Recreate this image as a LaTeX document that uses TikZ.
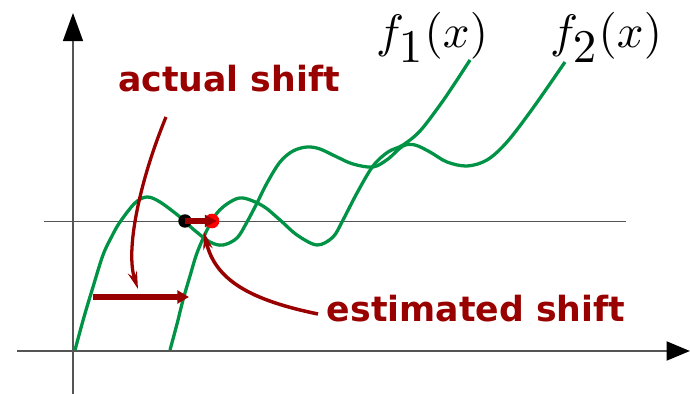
\documentclass[tikz,border=0pt]{standalone}
\usepackage{fontspec}
\newfontfamily\shiftfont{DejaVu Sans}
\usepackage{tikz}
\usetikzlibrary{arrows.meta, positioning}
\definecolor{curvegreen}{RGB}{0,146,69}
\definecolor{shiftred}{RGB}{153,0,0}
\definecolor{axisgray}{RGB}{85,85,85}

\begin{document}
\begin{tikzpicture}[x=0.3mm, y=-0.3mm,
    curve/.style={curvegreen, line width=2.8pt, line join=round},
    shiftlabel/.style={shiftred, inner sep=0pt, anchor=base, font=\shiftfont\bfseries\fontsize{29.6}{36}\selectfont},
    funclabel/.style={inner sep=0pt, anchor=base, scale=4},
    shiftarrow/.style={shiftred, line width=2.8pt, -{Stealth[length=15pt, width=8pt]}},
    pointdot/.style={circle, inner sep=0pt, minimum size=12.5pt}]
    \useasboundingbox (0,0) rectangle (690,394);
    % axes and level line
    \coordinate (xstart) at (17,351);
    \coordinate (xend) at (690,351);
    \coordinate (ystart) at (73,394);
    \coordinate (yend) at (73,13);
    \draw[axisgray, line width=2.4pt, -{Triangle[length=20pt, width=16pt, color=black]}] (xstart) -- (xend);
    \draw[axisgray, line width=1.6pt, -{Triangle[length=24pt, width=17pt, color=black]}] (ystart) -- (yend);
    \draw[axisgray, line width=0.85pt] (44,221) -- (626,221);
    % the two curves
    \draw[curve] plot[smooth, tension=0.55] coordinates {(75,350) (84,317) (93,287) (103,255) (112,236) (120,222) (135,203) (147,197) (160,202) (180,217) (193,229) (210,242) (223,245) (237,238) (247,222) (257,203) (267,183) (280,162) (293,151) (307,147) (320,149) (337,157) (353,164) (373,167) (388,159) (403,146) (415,145) (430,152) (447,162) (467,166) (487,160) (507,142) (533,108) (565,62)};
    \draw[curve] plot[smooth, tension=0.55] coordinates {(170,350) (177,324) (183,300) (190,276) (197,253) (207,230) (217,213) (230,202) (243,198) (263,206) (280,220) (297,235) (317,245) (333,237) (343,220) (357,193) (373,166) (388,152) (403,145) (420,131) (440,105) (455,83) (470,60)};
    \node[funclabel] (fone) at (432,48) {$f_{\textstyle 1}(x)$};
    \node[funclabel] (ftwo) at (606,48) {$f_{\textstyle 2}(x)$};
    % shifts
    \node[shiftlabel] (actual) at (229,92) {actual shift};
    \node[shiftlabel] (estimated) at (476,322) {estimated shift};
    \coordinate (actualtail) at (166,117);
    \coordinate (actualtip) at (138,289);
    \coordinate (shiftstart) at (93,297);
    \coordinate (shiftend) at (189,297);
    \coordinate (esttail) at (318,314);
    \coordinate (esttip) at (204,232);
    \draw[shiftarrow] (actualtail) .. controls (140,180) and (125,250) .. (actualtip);
    \draw[shiftred, line width=5pt, -{Triangle[length=10pt, width=11pt]}] (shiftstart) -- (shiftend);
    \draw[shiftarrow, line width=3pt] (esttail) .. controls (250,300) and (215,280) .. (esttip);
    \node[pointdot, fill=black, minimum size=11.5pt] (blackdot) at (185,221) {};
    \node[pointdot, fill=red] (reddot) at (212,221) {};
    \draw[shiftred, line width=4.3pt, -{Triangle[length=10pt, width=10pt]}] (blackdot.center) -- ([xshift=4pt]reddot.center);
\end{tikzpicture}
\end{document}
